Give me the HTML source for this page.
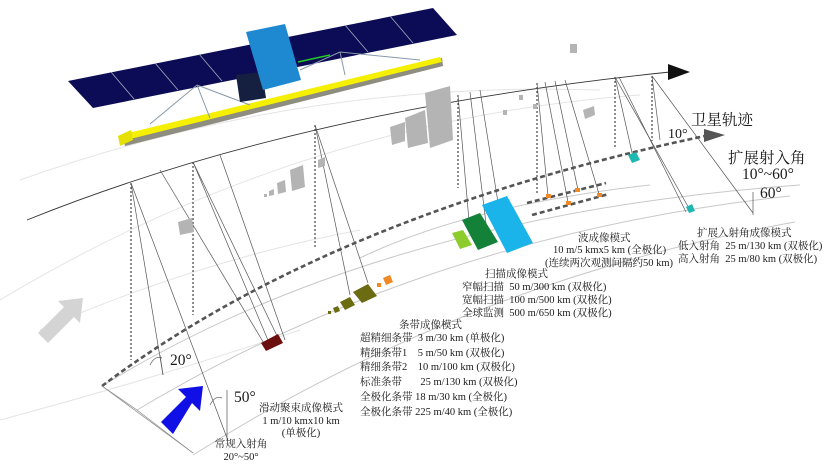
<!DOCTYPE html>
<html><head><meta charset="utf-8"><style>
html,body{margin:0;padding:0;background:#fff;}
svg{display:block;}
text{font-family:"Liberation Serif","Noto Serif CJK SC",serif;fill:#1a1a1a;}
.s{font-size:10.5px;}
.b{font-size:15.5px;}
</style></head><body>
<svg width="827" height="468" viewBox="0 0 827 468" xmlns="http://www.w3.org/2000/svg">
<g fill="none" stroke="#e4e4e4" stroke-width="1">
<path d="M0 300 Q300 120 640 95"/>
<path d="M20 180 Q300 80 600 90"/>
<path d="M40 330 Q200 260 360 230"/>
<path d="M0 420 Q150 380 300 330"/>
</g>
<g fill="none" stroke="#c8c8c8" stroke-width="1">
<path d="M137 410 Q430 235 790 196"/>
<path d="M193 455 Q470 280 795 222"/>
<path d="M102 386 Q380 215 800 185"/>
<path d="M360 258 Q470 205 650 185"/>
</g>
<path d="M27 220 Q300 110 670 72" fill="none" stroke="#333" stroke-width="0.9"/>
<polygon points="668,64 690,72 668,80" fill="#111"/>
<path d="M102 386 Q330 215 705 136" fill="none" stroke="#555" stroke-width="2.6" stroke-dasharray="5,3"/>
<polygon points="704,129 725,135 704,142" fill="#555"/>
<path d="M527 203 L606 183" stroke="#555" stroke-width="2.6" stroke-dasharray="5,3"/>
<path d="M532 215 L609 194" stroke="#555" stroke-width="2.6" stroke-dasharray="5,3"/>
<g stroke="#444" stroke-width="1.2" stroke-dasharray="2,2">
<line x1="131" y1="183" x2="131" y2="360"/>
<line x1="193" y1="162" x2="193" y2="315"/>
<line x1="315" y1="125" x2="315" y2="247"/>
<line x1="458" y1="95" x2="458" y2="188"/>
<line x1="537" y1="83" x2="537" y2="195"/>
<line x1="615" y1="77" x2="615" y2="147"/>
<line x1="652" y1="76" x2="652" y2="141"/>
</g>
<g stroke="#555" stroke-width="0.7" fill="none">
<line x1="131" y1="183" x2="163" y2="375"/>
<line x1="131" y1="183" x2="227" y2="438"/>
<line x1="160" y1="170" x2="265" y2="345"/>
<line x1="193" y1="162" x2="270" y2="345"/>
<line x1="193" y1="162" x2="280" y2="342"/>
<line x1="220" y1="155" x2="285" y2="340"/>
<line x1="315" y1="125" x2="350" y2="295"/>
<line x1="315" y1="125" x2="368" y2="283"/>
<line x1="458" y1="95" x2="470" y2="232"/>
<line x1="470" y1="92" x2="488" y2="240"/>
<line x1="480" y1="90" x2="500" y2="215"/>
<line x1="537" y1="83" x2="548" y2="196"/>
<line x1="545" y1="82" x2="568" y2="202"/>
<line x1="555" y1="81" x2="578" y2="190"/>
<line x1="565" y1="80" x2="599" y2="194"/>
<line x1="615" y1="77" x2="633" y2="157"/>
<line x1="615" y1="77" x2="690" y2="210"/>
<line x1="619" y1="77" x2="686" y2="212"/>
<line x1="652" y1="76" x2="660" y2="140"/>
<line x1="652" y1="76" x2="753" y2="213"/>
<line x1="753" y1="192" x2="753" y2="215"/>
<line x1="137" y1="410" x2="193" y2="453" stroke="#888"/>
<line x1="102" y1="386" x2="193" y2="453" stroke="#888"/>
<line x1="102" y1="386" x2="137" y2="410" stroke="#888"/>
<line x1="160" y1="355" x2="163" y2="375"/>
<line x1="227" y1="390" x2="227" y2="440"/>
<path d="M150 365 Q155 355 162 358"/>
<path d="M210 405 Q215 395 222 398"/>
</g>
<g fill="#b4b4b4">
<polygon points="425,93 450,86 453,140 430,148"/>
<polygon points="405,118 425,110 428,143 408,148"/>
<polygon points="390,127 405,122 405,141 392,145"/>
<polygon points="290,170 303,165 305,187 292,191"/>
<polygon points="277,183 285,180 286,192 278,194"/>
<polygon points="269,191 274,189 274,195 269,196"/>
<rect x="264" y="194" width="3" height="3"/>
<polygon points="318,160 325,157 325,166 318,168"/>
<rect x="570" y="44" width="7" height="9"/>
<rect x="519" y="95" width="4" height="5"/>
<rect x="503" y="110" width="4" height="5"/>
<rect x="533" y="104" width="4" height="5"/>
<polygon points="583,110 594,106 595,115 585,119"/>
<polygon points="178,222 192,218 194,232 180,235"/>
</g>
<polygon points="261,343 278,334 283,343 266,351" fill="#6b0f0f"/>
<polygon points="353,292 368,284 377,296 362,303" fill="#6b6b12"/>
<polygon points="340,302 350,297 355,305 345,310" fill="#6b6b12"/>
<polygon points="333,308 338,306 340,311 335,313" fill="#6b6b12"/>
<rect x="328" y="311" width="3" height="3" fill="#6b6b12"/>
<polygon points="383,278 390,275 393,282 386,285" fill="#f08a24"/>
<rect x="377" y="283" width="4" height="4" fill="#f08a24"/>
<polygon points="452,233 463,230 472,245 460,249" fill="#8ccc2c"/>
<polygon points="462,220 480,213 498,242 478,250" fill="#138238"/>
<polygon points="482,205 507,196 533,243 507,253" fill="#1ab4ea"/>
<polygon points="628,155 636,152 640,160 632,163" fill="#1fb8b0"/>
<polygon points="686,207 692,204 695,211 689,213" fill="#1fb8b0"/>
<g fill="#f08a24"><rect x="546" y="194" width="5" height="4"/><rect x="566" y="201" width="5" height="4"/><rect x="575" y="188" width="5" height="4"/><rect x="597" y="193" width="5" height="4"/></g>
<polygon points="43,338 38,333 64,307 58,301 83,298 80,323 74,317 48,343" fill="#d4d4d4"/>
<polygon points="167,428 161,422 186,397 178,389 203,386 200,411 192,403 173,434" fill="#1010e6"/>
<polygon points="68,81 433,8 457,35 93,108" fill="#0b0c55"/>
<g stroke="#aab" stroke-width="0.8">
<line x1="111" y1="72" x2="134" y2="99"/><line x1="155" y1="63" x2="178" y2="90"/><line x1="199" y1="54" x2="222" y2="81"/>
<line x1="345" y1="25" x2="368" y2="52"/><line x1="390" y1="16" x2="413" y2="43"/>
</g>
<polygon points="122,136 442,58 443,66 125,146" fill="#8d8d80"/>
<polygon points="120,135 440,57 442,62 122,141" fill="#f5f000"/>
<polygon points="118,136 131,130 133,140 120,146" fill="#e6e000"/>
<g stroke="#8899aa" stroke-width="1" fill="none">
<line x1="150" y1="124" x2="197" y2="85"/><line x1="197" y1="85" x2="210" y2="118"/><line x1="197" y1="85" x2="250" y2="105"/>
<line x1="340" y1="52" x2="300" y2="70"/><line x1="340" y1="52" x2="420" y2="60"/><line x1="340" y1="52" x2="345" y2="75"/>
</g>
<line x1="298" y1="62" x2="330" y2="55" stroke="#22cc22" stroke-width="1.5"/>
<polygon points="236,75 262,72 266,98 240,102" fill="#152040"/>
<polygon points="246,32 285,24 301,80 263,90" fill="#1e88d0"/>
<text class="b" x="691" y="125">卫星轨迹</text>
<text class="b" x="668" y="138" style="font-size:14px">10°</text>
<text class="b" x="728" y="163">扩展射入角</text>
<text class="b" x="742" y="179">10°~60°</text>
<text class="b" x="760" y="198">60°</text>
<text class="s" x="697" y="236">扩展入射角成像模式</text>
<text class="s" x="678" y="249">低入射角&#160; 25 m/130 km (双极化)</text>
<text class="s" x="678" y="262">高入射角&#160; 25 m/80 km (双极化)</text>
<text class="s" x="578" y="241">波成像模式</text>
<text class="s" x="553" y="253">10 m/5 kmx5 km (全极化)</text>
<text class="s" x="545" y="266">(连续两次观测间隔约50 km)</text>
<text class="s" x="485" y="277">扫描成像模式</text>
<text class="s" x="462" y="290">窄幅扫描&#160; 50 m/300 km (双极化)</text>
<text class="s" x="462" y="303">宽幅扫描&#160; 100 m/500 km (双极化)</text>
<text class="s" x="462" y="316">全球监测&#160; 500 m/650 km (双极化)</text>
<text class="s" x="399" y="328">条带成像模式</text>
<text class="s" x="360" y="341">超精细条带&#160; 3 m/30 km (单极化)</text>
<text class="s" x="360" y="356">精细条带1&#160;&#160;&#160; 5 m/50 km (双极化)</text>
<text class="s" x="360" y="370">精细条带2&#160;&#160;&#160; 10 m/100 km (双极化)</text>
<text class="s" x="360" y="385">标准条带&#160;&#160;&#160;&#160;&#160;&#160; 25 m/130 km (双极化)</text>
<text class="s" x="360" y="400">全极化条带 18 m/30 km (全极化)</text>
<text class="s" x="360" y="415">全极化条带 225 m/40 km (全极化)</text>
<text class="b" x="170" y="365">20°</text>
<text class="b" x="234" y="402">50°</text>
<text class="s" x="301" y="411" text-anchor="middle">滑动聚束成像模式</text>
<text class="s" x="301" y="424" text-anchor="middle">1 m/10 kmx10 km</text>
<text class="s" x="301" y="436" text-anchor="middle">(单极化)</text>
<text class="s" x="241" y="447" text-anchor="middle">常规入射角</text>
<text class="s" x="241" y="460" text-anchor="middle">20°~50°</text>
</svg>
</body></html>
